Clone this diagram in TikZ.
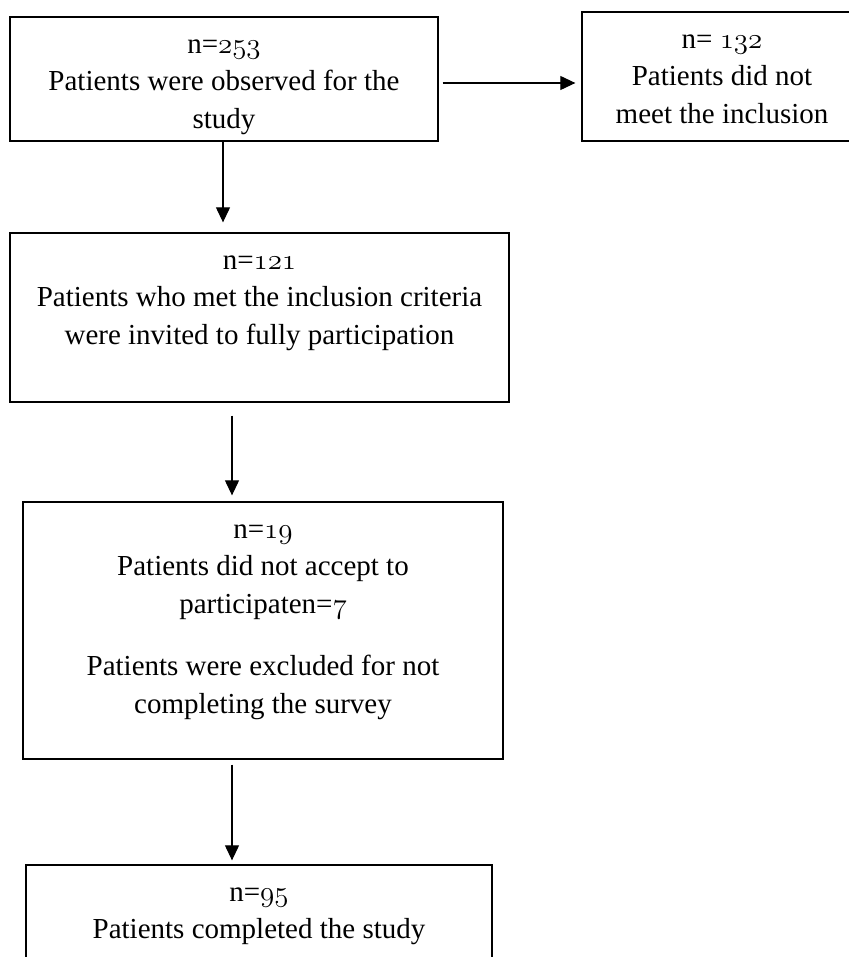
\RequirePackage{fix-cm}
\documentclass[tikz,border=0pt]{standalone}
\usepackage{fontspec}
\setmainfont{Liberation Serif}
\usetikzlibrary{arrows.meta}
\newcommand\osnum[1]{{\fontencoding{OML}\fontfamily{cmm}\fontseries{m}\fontshape{it}\selectfont #1}}
\begin{document}
\begin{tikzpicture}[x=1pt,y=-1pt,
  box/.style={draw=black,line width=1.3pt,rectangle,inner sep=0pt},
  txt/.style={anchor=north,align=center,inner sep=0pt,
    font=\fontsize{29}{37.5}\selectfont},
  arr/.style={draw=black,line width=1.1pt,-{Triangle[length=15pt,width=14pt]}}]
\useasboundingbox (0,0) rectangle (848,957);
% boxes
\node[box,minimum width=428pt,minimum height=124pt] (b1) at (224,79) {};
\node[box,minimum width=268pt,minimum height=129pt] (b2) at (716,76.5) {};
\node[box,minimum width=499pt,minimum height=169pt] (b3) at (259.5,317.5) {};
\node[box,minimum width=480pt,minimum height=257pt] (b4) at (263,630.5) {};
\node[box,minimum width=466pt,minimum height=130pt] (b5) at (259,930) {};
% texts
\node[txt] (t1) at (224,26.75) {\strut n=\osnum{253}\\Patients were observed for the\\study};
\node[txt] (t2) at (722,21.75) {\strut n= \osnum{132}\\Patients did not\\meet the inclusion};
\node[txt] (t3) at (259.5,242.75) {\strut n=\osnum{121}\\Patients who met the inclusion criteria\\were invited to fully participation};
\node[txt] (t4) at (263,511.75) {\strut n=\osnum{19}\\Patients did not accept to\\participaten=\osnum{7}\\[25pt]Patients were excluded for not\\completing the survey};
\node[txt] (t5) at (259,874.75) {\strut n=\osnum{95}\\Patients completed the study};
% arrow columns
\coordinate (c1) at (223,0);
\coordinate (c2) at (232,0);
\coordinate (c3) at (0,83);
% connectors
\draw[arr,shorten >=10pt] (b1.south -| c1) -- (b3.north -| c1);
\draw[arr,shorten <=4pt,shorten >=6pt] (b1.east |- c3) -- (b2.west |- c3);
\draw[arr,shorten <=13pt,shorten >=6pt] (b3.south -| c2) -- (b4.north -| c2);
\draw[arr,shorten <=5pt,shorten >=4pt] (b4.south -| c2) -- (b5.north -| c2);
\end{tikzpicture}
\end{document}
